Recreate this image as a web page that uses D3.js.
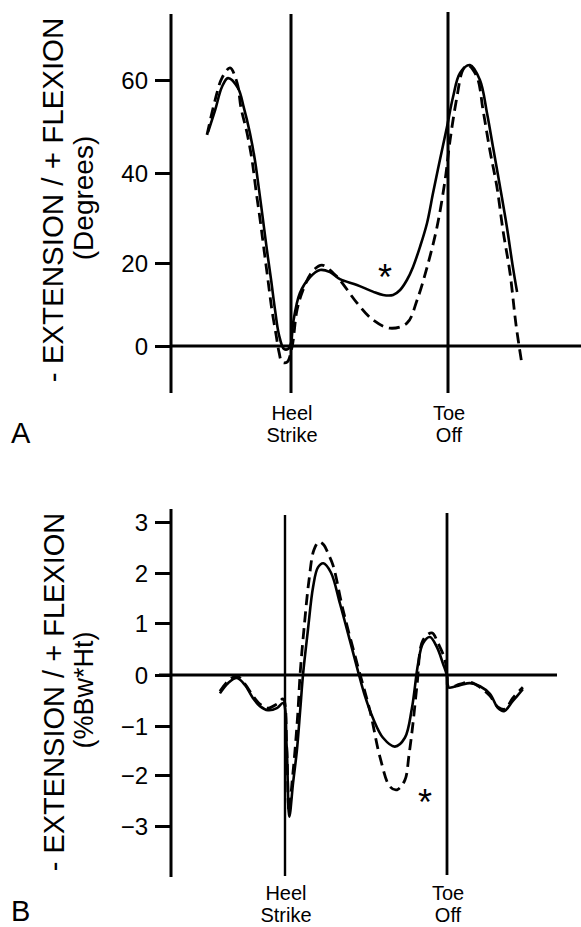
<!DOCTYPE html>
<html>
<head>
<meta charset="utf-8">
<script src="https://cdn.jsdelivr.net/npm/d3@7"></script>
<style>
    body { margin: 0; background: #fff; }
    svg text { font-family: "Liberation Sans", Arial, Helvetica, sans-serif; fill: #000; }
</style>
</head>
<body>
<div id="chart"></div>
<script>
'use strict';

// x values are % of gait cycle, heel strike = 0, toe off = 60
const gaitEvents = [0, 60];
const eventLabels = [["Heel", "Strike"], ["Toe", "Off"]];

// panel A - knee angle (degrees)
const angleTicks = [0, 20, 40, 60];
const angleSolidX = [-31.7, -29.0, -26.4, -24.1, -20.3, -18.0, -15.7, -13.8, -12.2, -10.7, -9.2, -7.6, -6.1, -4.6, -2.7,
    -1.1, 0.0, 0.8, 3.4, 7.3, 11.1, 14.9, 18.7, 25.2, 31.3, 35.2, 39.0, 41.7, 44.3, 46.6, 49.3, 52.0, 54.3, 56.9, 59.6,
    61.9, 64.6, 68.4, 72.2, 74.9, 77.2, 79.9, 82.5, 84.8, 86.4];
const angleSolidY = [48.8, 53.5, 58.5, 60.4, 58.3, 54.0, 48.6, 42.8, 36.2, 29.6, 22.9, 15.9, 8.7, 2.7, -0.7,
    -0.7, 0.7, 5.5, 12.8, 16.6, 18.3, 17.8, 16.1, 14.7, 13.1, 12.3, 12.3, 13.5, 15.9, 19.0, 23.6, 28.9, 35.6, 42.8, 49.9,
    56.3, 61.5, 63.2, 60.0, 52.9, 45.6, 36.9, 28.0, 19.0, 13.0];
const angleDashedX = [-32.1, -29.0, -26.4, -23.3, -20.6, -19.1, -16.8, -14.9, -13.4, -11.8, -10.3, -8.8, -7.3, -5.7, -4.6,
    -3.4, -1.5, 0.4, 2.3, 4.6, 8.0, 11.8, 16.1, 18.7, 25.2, 31.3, 37.8, 44.3, 48.2, 52.0, 55.8, 58.9, 60.8, 63.4, 65.7,
    67.6, 71.1, 73.4, 76.0, 78.7, 81.0, 83.7, 86.0, 88.3];
const angleDashedY = [48.2, 55.7, 60.4, 62.6, 59.4, 54.0, 48.6, 42.8, 36.2, 29.6, 22.9, 15.9, 8.7, 2.7, -1.4,
    -3.9, -3.9, -0.2, 8.7, 13.5, 17.8, 19.5, 17.6, 15.9, 10.4, 6.3, 4.3, 5.5, 11.1, 19.0, 28.0, 38.5, 47.1, 56.3, 62.2,
    63.2, 60.6, 53.5, 44.9, 36.9, 27.3, 17.6, 5.1, -4.6];

// panel B - knee moment (%Bw*Ht)
const momentTicks = [-3, -2, -1, 0, 1, 2, 3];
const momentSolidX = [-24.1, -21.1, -17.8, -14.8, -11.9, -9.3, -6.3, -3.0, -0.7, 0.6, 1.6, 3.0, 4.4, 5.6, 6.7,
    8.5, 10.4, 12.2, 14.2, 17.0, 20.4, 24.1, 27.0, 29.6, 32.6, 36.3, 40.7, 44.4, 47.0, 49.3, 51.1, 53.7, 56.3, 58.5, 60.0,
    60.4, 64.8, 68.5, 72.2, 75.9, 78.9, 81.1, 84.4, 88.1];
const momentSolidY = [-0.36, -0.16, -0.06, -0.20, -0.45, -0.61, -0.69, -0.65, -0.55, -1.40, -2.82, -2.15, -1.50, -0.71, 0.02,
    0.87, 1.72, 2.11, 2.19, 2.01, 1.38, 0.65, 0.08, -0.41, -0.85, -1.24, -1.42, -1.24, -0.65, 0.22, 0.61, 0.73, 0.53, 0.22, -0.02,
    -0.24, -0.20, -0.16, -0.22, -0.37, -0.65, -0.71, -0.51, -0.28];
const momentDashedX = [-24.1, -21.1, -17.8, -14.8, -11.9, -9.3, -6.3, -3.0, -0.7, 0.6, 1.5, 2.6, 3.7, 4.8, 5.6,
    7.0, 8.9, 10.7, 12.6, 14.4, 15.9, 17.8, 21.5, 26.7, 31.5, 35.2, 38.9, 41.5, 44.4, 45.9, 47.4, 48.9, 51.1, 54.4, 56.7,
    59.3, 60.0, 60.7, 64.8, 68.5, 72.2, 75.9, 78.9, 81.5, 84.4, 88.1];
const momentDashedY = [-0.32, -0.12, -0.02, -0.18, -0.41, -0.57, -0.65, -0.57, -0.47, -1.40, -2.72, -2.15, -1.50, -0.71, 0.02,
    0.87, 1.86, 2.45, 2.61, 2.55, 2.39, 2.15, 1.26, 0.22, -0.71, -1.64, -2.23, -2.29, -2.10, -1.60, -0.95, -0.20, 0.67, 0.81, 0.61,
    0.28, -0.02, -0.24, -0.18, -0.14, -0.24, -0.41, -0.63, -0.67, -0.45, -0.24];

// significance markers [x %, value]
const angleStar = [35.9, 18.3];
const momentStar = [51.9, -2.39];


const width = 581, height = 927;

const svg = d3.select("#chart").append("svg")
    .attr("width", width)
    .attr("height", height);

function zip(xs, ys) {
    return xs.map(function (x, i) { return [x, ys[i]]; });
}

function drawPanel(cfg) {
    let g = svg.append("g");
    let x = d3.scaleLinear().domain(gaitEvents).range(cfg.eventPx);
    let y = d3.scaleLinear().domain(cfg.tickValues).range(cfg.tickPx);

    // ticks on left
    let axis = d3.axisLeft(y)
        .tickValues(cfg.tickValues)
        .tickSize(16)
        .tickPadding(7)
        .tickFormat(d3.format("d"));

    let ax = g.append("g")
        .attr("transform", "translate(" + cfg.axisX + ",0)")
        .call(axis);
    ax.select(".domain").remove();
    ax.selectAll(".tick line").attr("stroke", "#000").attr("stroke-width", 3);
    ax.selectAll(".tick text")
        .style("font-size", "24px")
        .attr("dy", "0.36em");

    // vertical axis
    g.append("line")
        .attr("x1", cfg.axisX).attr("x2", cfg.axisX)
        .attr("y1", cfg.axisTop).attr("y2", cfg.axisBottom)
        .attr("stroke", "#000").attr("stroke-width", 3);

    // zero line
    g.append("line")
        .attr("x1", cfg.zeroFrom).attr("x2", cfg.zeroTo)
        .attr("y1", y(0)).attr("y2", y(0))
        .attr("stroke", "#000").attr("stroke-width", 3);

    // heel strike / toe off lines
    g.selectAll(".event").data(gaitEvents).enter()
        .append("line")
        .attr("class", "event")
        .attr("x1", function (d) { return x(d); })
        .attr("x2", function (d) { return x(d); })
        .attr("y1", function (d, i) { return cfg.eventTop[i]; })
        .attr("y2", function (d, i) { return cfg.eventBottom[i]; })
        .attr("stroke", "#000")
        .attr("stroke-width", function (d, i) { return cfg.eventWidth[i]; });

    let lbl = g.selectAll(".evlabel").data(gaitEvents).enter()
        .append("text")
        .attr("class", "evlabel")
        .attr("text-anchor", "middle")
        .style("font-size", "20px");
    lbl.each(function (d, i) {
        let t = d3.select(this);
        eventLabels[i].forEach(function (s, k) {
            t.append("tspan")
                .attr("x", x(d) + cfg.labelShift)
                .attr("y", cfg.labelY + k * 22)
                .text(s);
        });
    });

    let line = d3.line()
        .x(function (d) { return x(d[0]); })
        .y(function (d) { return y(d[1]); })
        .curve(d3.curveCatmullRom.alpha(0.5));

    g.append("path")
        .datum(zip(cfg.solidX, cfg.solidY))
        .attr("d", line)
        .attr("fill", "none")
        .attr("stroke", "#000")
        .attr("stroke-width", 2.6)
        .attr("stroke-linejoin", "round");

    g.append("path")
        .datum(zip(cfg.dashedX, cfg.dashedY))
        .attr("d", line)
        .attr("fill", "none")
        .attr("stroke", "#000")
        .attr("stroke-width", 2.8)
        .attr("stroke-dasharray", "11,6");

    // asterisk, glyph centred on the point
    g.append("text")
        .attr("x", x(cfg.star[0]))
        .attr("y", y(cfg.star[1]))
        .attr("dy", "0.55em")
        .attr("text-anchor", "middle")
        .style("font-size", "36px")
        .text("*");

    // y title, two lines
    g.append("text")
        .attr("transform", "translate(" + cfg.titleX[0] + "," + cfg.titleY[0] + ") rotate(-90)")
        .attr("text-anchor", "middle")
        .style("font-size", cfg.titleSize[0] + "px")
        .text("- EXTENSION / + FLEXION");
    g.append("text")
        .attr("transform", "translate(" + cfg.titleX[1] + "," + cfg.titleY[1] + ") rotate(-90)")
        .attr("text-anchor", "middle")
        .style("font-size", cfg.titleSize[1] + "px")
        .text(cfg.unit);

    // panel letter
    g.append("text")
        .attr("x", 11)
        .attr("y", cfg.letterY)
        .style("font-size", "29px")
        .text(cfg.letter);
}

drawPanel({
    letter: "A", letterY: 443, unit: "(Degrees)",
    tickValues: angleTicks, tickPx: [346, 263, 173, 80],
    eventPx: [291, 448],
    axisX: 171, axisTop: 14, axisBottom: 393,
    zeroFrom: 171, zeroTo: 581,
    eventTop: [14, 12], eventBottom: [393, 393], eventWidth: [3, 3],
    labelY: 420, labelShift: 1,
    solidX: angleSolidX, solidY: angleSolidY,
    dashedX: angleDashedX, dashedY: angleDashedY,
    star: angleStar,
    titleX: [63, 93], titleY: [200, 198], titleSize: [29.5, 28]
});

drawPanel({
    letter: "B", letterY: 921, unit: "(%Bw*Ht)",
    tickValues: momentTicks, tickPx: [826, 775, 726, 675, 623, 573, 522],
    eventPx: [285, 447],
    axisX: 171, axisTop: 509, axisBottom: 877,
    zeroFrom: 159, zeroTo: 557,
    eventTop: [515, 513], eventBottom: [876, 875], eventWidth: [2.4, 2.8],
    labelY: 900, labelShift: 1,
    solidX: momentSolidX, solidY: momentSolidY,
    dashedX: momentDashedX, dashedY: momentDashedY,
    star: momentStar,
    titleX: [64, 93], titleY: [692, 690], titleSize: [29, 27]
});
</script>
</body>
</html>
